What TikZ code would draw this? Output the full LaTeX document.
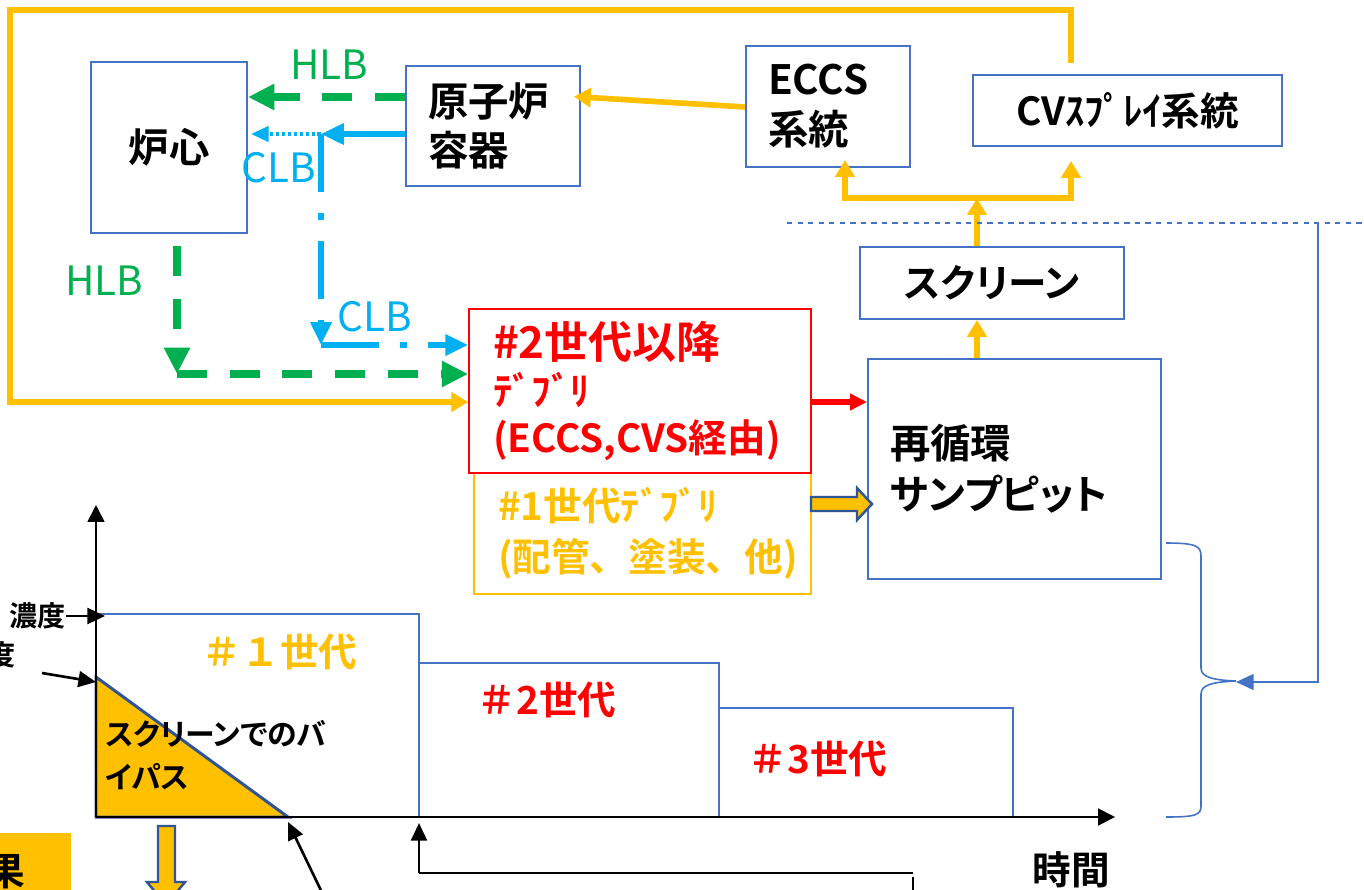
\documentclass[tikz,border=0pt]{standalone}
\usepackage{fontspec}
\setmainfont{Noto Sans CJK JP}[BoldFont={Noto Sans CJK JP Bold},RawFeature=+palt]
\usetikzlibrary{arrows.meta}
\definecolor{amber}{HTML}{FFC000}
\definecolor{leaf}{HTML}{00B050}
\definecolor{sky}{HTML}{00B0F0}
\definecolor{frame}{HTML}{4472C4}
\definecolor{navy}{HTML}{2F5597}
\definecolor{alert}{HTML}{FF0000}
\newcommand{\monowidth}{\addfontfeature{RawFeature=-palt}}

\begin{document}
\begin{tikzpicture}[x=0.02cm,y=-0.02cm,
  box/.style={draw=frame,line width=1.1pt,fill=white,inner sep=0pt,
    font=\bfseries\fontsize{23}{28}\selectfont},
  lbox/.style={box,align=left,inner xsep=0.44cm},
  tag/.style={inner sep=0pt,font=\fontsize{23}{28}\selectfont},
  genlabel/.style={inner sep=0pt,font=\bfseries\monowidth\fontsize{22}{26}\selectfont},
  hlb/.style={leaf,line width=4pt,dash pattern=on 17pt off 13pt,
    -{Triangle[length=15pt,width=14pt]}},
  clb/.style={sky,line width=3.4pt,-{Triangle[length=13pt,width=11.5pt]}},
  clbdash/.style={clb,dash pattern=on 33pt off 12pt on 4pt off 12pt},
  clbdot/.style={sky,line width=2.2pt,dash pattern=on 2pt off 1.4pt,
    -{Triangle[length=10pt,width=8.5pt]}},
  feed/.style={amber,line width=3.2pt,-{Triangle[length=9.6pt,width=10.8pt]}},
  redflow/.style={alert,line width=3pt,-{Triangle[length=9.6pt,width=9pt]}},
  axis/.style={black,line width=1.1pt,-{Triangle[length=9.6pt,width=9.6pt]}},
  pointer/.style={black,line width=1.5pt,-{Triangle[length=10pt,width=9pt]}},
  genline/.style={frame,line width=0.9pt},
  blockarrow/.style={fill=amber,draw=navy,line width=1.4pt,line join=miter}]
  \useasboundingbox (0,0) rectangle (1364,889);
  \clip (0,0) rectangle (1364,889);
  \fill[white] (0,0) rectangle (1364,889);

  % upper flow boxes
  \node[box,minimum width=3.12cm,minimum height=3.42cm] (core) at (169,147.5) {炉心};
  \node[lbox,text width=2.6cm,minimum height=2.4cm] (vessel) at (493,126) {原子炉\\容器};
  \node[lbox,text width=2.4cm,minimum height=2.42cm,
    font=\bfseries\fontsize{23}{28.5}\selectfont] (eccs) at (828,106.5) {ECCS\\系統};
  \node[box,minimum width=6.18cm,minimum height=1.42cm,
    font=\bfseries\fontsize{22}{26}\selectfont] (cvsp) at (1127.5,110.5) {CVｽﾌﾟﾚｲ系統};
  \node[box,minimum width=5.28cm,minimum height=1.44cm,
    font=\bfseries\fontsize{22}{26}\selectfont] (screen) at (992,283) {スクリーン};
  \node[lbox,text width=4.98cm,minimum height=4.4cm,
    font=\bfseries\fontsize{23}{29}\selectfont] (sump) at (1014.5,469) {再循環\\サンプピット};
  \node[lbox,draw=amber,line width=0.9pt,text=amber,text width=5.78cm,
    minimum height=2.42cm,inner xsep=0.48cm,
    font=\bfseries\monowidth\fontsize{22}{29}\selectfont] (gen1) at (642.5,533.5) {\#1世代ﾃﾞﾌﾞﾘ\\(配管、塗装、他)};
  \node[lbox,draw=alert,line width=0.9pt,text=alert,text width=5.88cm,
    minimum height=3.28cm,inner xsep=0.48cm,
    font=\bfseries\fontsize{22}{27}\selectfont] (gen2) at (640,391)
    {{\fontsize{25}{27}\selectfont\#2世代以降}\\ﾃﾞﾌﾞﾘ\\(ECCS,CVS経由)};

  % break flows
  \coordinate (clbsplit) at (321,134);
  \coordinate (clbcorner) at (321,345);
  \coordinate (hlbcorner) at (177,374);
  \draw[hlb] (vessel.west |- 0,97) -- (core.east |- 0,97);
  \draw[clb] (vessel.west |- clbsplit) -- (clbsplit);
  \draw[clbdot,shorten >=0.06cm] (clbsplit) -- (core.east |- clbsplit);
  \draw[clbdash] (clbsplit) -- (clbcorner);
  \draw[clbdash] (clbcorner) -- (gen2.west |- clbcorner);
  \draw[hlb,shorten <=0.24cm] (hlbcorner |- core.south) -- (hlbcorner);
  \draw[hlb] (hlbcorner) -- (gen2.west |- hlbcorner);
  \node[tag,leaf] (hlbtop) at (329,65) {HLB};
  \node[tag,leaf] (hlbleft) at (104,281) {HLB};
  \node[tag,sky] (clbleft) at (279,168) {CLB};
  \node[tag,sky] (clbright) at (375,317) {CLB};

  % recirculation loop
  \coordinate (loopstart) at (1071,63);
  \coordinate (looptop) at (1071,10);
  \coordinate (split) at (977,198);
  \draw[feed] (loopstart) -- (looptop) -| (10,402) -- (gen2.west |- 0,402);
  \draw[feed,shorten >=-0.14cm] (eccs.west |- 0,107) -- (vessel.east |- 0,97);
  \draw[feed] (sump.north -| split) -- (screen.south -| split);
  \draw[feed] (screen.north -| split) -- (split);
  \draw[feed,shorten >=-0.16cm] (split) -| ([xshift=0.34cm]eccs.south);
  \draw[feed,shorten >=0.28cm] (split) -| (cvsp.south -| looptop);
  \draw[redflow] (gen2.east |- 0,402) -- (sump.west |- 0,402);
  \draw[blockarrow] (811,497) -- (857,497) -- (857,488) -- (872,504)
    -- (857,520) -- (857,511) -- (811,511) -- cycle;

  % containment side
  \draw[frame,line width=0.9pt,dashed] (787,223) -- (1364,223);
  \draw[frame,line width=0.9pt,-{Triangle[length=10pt,width=9pt]}] (1318,223) |- (1236,682);
  \draw[frame,line width=0.9pt] (1166,543) .. controls (1196,543) and (1201,546) .. (1201,556)
    -- (1201,668) .. controls (1201,677) and (1212,680) .. (1236,681)
    .. controls (1212,682) and (1201,685) .. (1201,694)
    -- (1201,806) .. controls (1201,815) and (1196,817) .. (1166,817);

  % concentration graph
  \coordinate (origin) at (96,817);
  \draw[genline] (96,614) -- (419,614) -- (419,817);
  \draw[genline] (419,663) -- (719,663) -- (719,817);
  \draw[genline] (719,708) -- (1013,708) -- (1013,817);
  \filldraw[fill=amber,draw=navy,line width=1.7pt] (96,677) -- (288,817) -- (96,817) -- cycle;
  \draw[axis] (origin) -- (96,505);
  \draw[axis] (origin) -- (1115,817);
  \node[genlabel,amber] (g1) at (280,652) {＃１世代};
  \node[genlabel,alert] (g2) at (547,700) {＃2世代};
  \node[genlabel,alert] (g3) at (818,759) {＃3世代};
  \node[anchor=west,align=left,inner sep=0pt,
    font=\bfseries\fontsize{17}{24}\selectfont] (bypasstext) at (105,755) {スクリーンでのバ\\イパス};
  \node[genlabel] (timelabel) at (1071,870) {時間};
  \node[anchor=east,inner sep=0pt,font=\bfseries\fontsize{16}{20}\selectfont] (conc) at (66,616) {濃度};
  \node[inner sep=0pt,font=\bfseries\fontsize{16}{20}\selectfont] (deg) at (2,655) {度};
  \draw[pointer,shorten >=-0.18cm] (conc.east) -- (origin |- conc.east);
  \draw[pointer] (42,673) -- (96,682);

  % cut-off items at the bottom
  \fill[amber] (0,833) rectangle (71,900);
  \node[genlabel] (fruit) at (6,872) {果};
  \draw[blockarrow] (158,826) -- (175,826) -- (175,882) -- (185,882) -- (166,905)
    -- (147,882) -- (158,882) -- cycle;
  \draw[pointer] (328,905) -- (288,822);
  \draw[pointer] (419,873) -- (419,823);
  \draw[black,line width=1.4pt] (419,873) -- (913,873);
  \draw[black,line width=1.4pt] (913,877) -- (913,895);
\end{tikzpicture}
\end{document}
